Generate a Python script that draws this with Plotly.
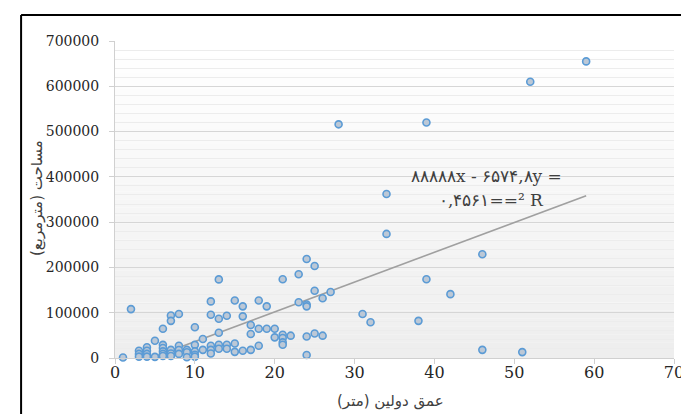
import plotly.graph_objects as go

# ---- data ----
depth = [1, 2, 3, 3, 3, 4, 4, 4, 4, 5, 5,
         6, 6, 6, 6, 6, 6, 7, 7, 7, 7, 7, 8, 8, 8, 8, 9, 9, 9,
         10, 10, 10, 10, 10, 11, 11, 12, 12, 12, 12, 12,
         13, 13, 13, 13, 13, 14, 14, 14, 15, 15, 15, 16, 16, 16,
         17, 17, 17, 18, 18, 18, 19, 19, 20, 20,
         21, 21, 21, 21, 21, 22, 23, 23, 24, 24, 24, 24, 24,
         25, 25, 25, 26, 26, 27, 28, 31, 32, 34, 34, 38, 39, 39,
         42, 46, 46, 51, 52, 59]
area = [1000, 108000, 16000, 9000, 3000, 23600, 16000, 9000, 3000, 38000, 2500,
        64700, 29000, 22000, 14700, 9000, 4400, 94000, 82000, 18000, 10000, 4400,
        97000, 27000, 17700, 9000, 18000, 12600, 1500,
        68000, 29000, 14700, 7300, 3000, 42000, 18000,
        125000, 95600, 27000, 18000, 10000,
        173600, 86800, 55900, 29400, 20500, 93400, 29400, 20500,
        127000, 32000, 13600, 114000, 92000, 16000,
        72800, 53000, 18000, 127000, 64700, 27000, 114000, 64700, 64700, 45600,
        174000, 51400, 44000, 34600, 29400, 49300, 185000, 123000,
        218500, 118000, 114000, 47500, 6500,
        203000, 148600, 54000, 132000, 49300, 145700, 516000, 97000, 79000,
        362000, 274000, 82000, 520000, 174000,
        141000, 229000, 18000, 13000, 610000, 655000]

trend_slope = 6574.8
trend_intercept = -29500
trend_x = [min(depth), max(depth)]
trend_y = [trend_slope * v + trend_intercept for v in trend_x]

x_ticks = [0, 10, 20, 30, 40, 50, 60, 70]
y_ticks = [0, 100000, 200000, 300000, 400000, 500000, 600000, 700000]
y_tick_text = ["0", "100000", "200000", "300000", "400000", "500000", "600000", "700000"]

x_title = "عمق دولین (متر)"
y_title = "مساحت (مترمربع)"
eq_line1 = "۸۸۸۸۸x - ۶۵۷۴,۸y ="
eq_line2 = "۰,۴۵۶۱==² R"

fig = go.Figure()

# gradient background of plot area
n = 40
shapes = []
for i in range(n):
    t = i / (n - 1)
    g = int(round(255 - 17 * t))
    shapes.append(dict(type="rect", xref="x domain", yref="y domain",
                       x0=0, x1=1, y0=1 - (i + 1) / n, y1=1 - i / n,
                       fillcolor=f"rgb({g},{g},{g})", line=dict(width=0),
                       layer="below"))
# outer frame
for (x0, y0, x1, y1) in [(-0.168, 1.082, 1.036, 1.082), (-0.168, 1.082, -0.168, -0.3),
                         (1.036, 1.082, 1.036, -0.3)]:
    shapes.append(dict(type="line", xref="paper", yref="paper", x0=x0, y0=y0,
                       x1=x1, y1=y1, line=dict(color="black", width=2)))

fig.add_trace(go.Scatter(
    x=trend_x, y=trend_y, mode="lines",
    line=dict(color="#a0a0a0", width=1.6), hoverinfo="skip", showlegend=False))

fig.add_trace(go.Scatter(
    x=depth, y=area, mode="markers",
    marker=dict(size=7, color="#bcc8d6", line=dict(color="#5b9bd5", width=1.6)),
    showlegend=False, cliponaxis=False))

serif = "DejaVu Serif"

fig.update_layout(
    width=689, height=414,
    margin=dict(l=107, r=23, t=33, b=64),
    paper_bgcolor="white", plot_bgcolor="rgba(0,0,0,0)",
    shapes=shapes,
    xaxis=dict(range=[0, 70], tickvals=x_ticks, showgrid=False, zeroline=False,
               showline=True, linecolor="#d0d0d0", linewidth=1,
               ticks="outside", ticklen=5, tickcolor="#d0d0d0",
               tickfont=dict(family=serif, size=16, color="#262626"),
               ticklabelstandoff=-5),
    yaxis=dict(range=[0, 700000], tickvals=y_ticks, ticktext=y_tick_text,
               showgrid=True, gridcolor="#d6d6d6", gridwidth=1.2, zeroline=False,
               showline=True, linecolor="#d0d0d0", linewidth=1,
               ticks="outside", ticklen=5, tickcolor="#d0d0d0",
               tickfont=dict(family=serif, size=14, color="#262626"),
               ticklabelstandoff=7,
               minor=dict(dtick=20000, showgrid=True, gridcolor="#ececec",
                          gridwidth=1, ticks="")),
    annotations=[
        dict(text=x_title, xref="paper", yref="paper", x=(382 - 107) / 559,
             y=(350 - 393) / 317, showarrow=False, xanchor="center", yanchor="middle",
             font=dict(family="DejaVu Sans", size=15, color="#404040")),
        dict(text=y_title, xref="paper", yref="paper", x=(29 - 107) / 559,
             y=(350 - 190) / 317, showarrow=False, textangle=-90,
             xanchor="center", yanchor="middle",
             font=dict(family="DejaVu Sans", size=15, color="#404040")),
        dict(text=eq_line1, xref="paper", yref="paper", x=(478 - 107) / 559,
             y=(350 - 168) / 317, showarrow=False, xanchor="center", yanchor="middle",
             font=dict(family=serif, size=17, color="#404040")),
        dict(text=eq_line2, xref="paper", yref="paper", x=(483 - 107) / 559,
             y=(350 - 192) / 317, showarrow=False, xanchor="center", yanchor="middle",
             font=dict(family=serif, size=17, color="#404040")),
    ],
)

fig.write_html("out.html")
